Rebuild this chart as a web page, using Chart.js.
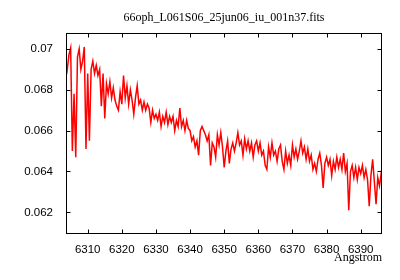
<!DOCTYPE html>
<html>
<head>
<meta charset="utf-8">
<script src="https://cdn.jsdelivr.net/npm/chart.js@4/dist/chart.umd.min.js"></script>
<style>
  html, body { margin: 0; padding: 0; background: #ffffff; }
  canvas { display: block; }
</style>
</head>
<body>
<canvas id="c" width="400" height="280"></canvas>
<script>
const titleText = "66oph_L061S06_25jun06_iu_001n37.fits";
const xAxisTitle = "Angstrom";

const wavelengths = [
  6303.5,6304,6304.5,6305,6305.5,6306,6306.5,6307,6307.5,6308,
  6308.5,6309,6309.5,6310,6310.5,6311,6311.5,6312,6312.5,6313,
  6313.5,6314,6314.5,6315,6315.5,6316,6316.5,6317,6317.5,6318,
  6318.5,6319,6319.5,6320,6320.5,6321,6321.5,6322,6322.5,6323,
  6323.5,6324,6324.5,6325,6325.5,6326,6326.5,6327,6327.5,6328,
  6328.5,6329,6329.5,6330,6330.5,6331,6331.5,6332,6332.5,6333,
  6333.5,6334,6334.5,6335,6335.5,6336,6336.5,6337,6337.5,6338,
  6338.5,6339,6339.5,6340,6340.5,6341,6341.5,6342,6342.5,6343,
  6343.5,6344,6344.5,6345,6345.5,6346,6346.5,6347,6347.5,6348,
  6348.5,6349,6349.5,6350,6350.5,6351,6351.5,6352,6352.5,6353,
  6353.5,6354,6354.5,6355,6355.5,6356,6356.5,6357,6357.5,6358,
  6358.5,6359,6359.5,6360,6360.5,6361,6361.5,6362,6362.5,6363,
  6363.5,6364,6364.5,6365,6365.5,6366,6366.5,6367,6367.5,6368,
  6368.5,6369,6369.5,6370,6370.5,6371,6371.5,6372,6372.5,6373,
  6373.5,6374,6374.5,6375,6375.5,6376,6376.5,6377,6377.5,6378,
  6378.5,6379,6379.5,6380,6380.5,6381,6381.5,6382,6382.5,6383,
  6383.5,6384,6384.5,6385,6385.5,6386,6386.5,6387,6387.5,6388,
  6388.5,6389,6389.5,6390,6390.5,6391,6391.5,6392,6392.5,6393,
  6393.5,6394,6394.5,6395,6395.5,6396,6396.5
];

const flux = [
  0.06946,0.06898,0.06971,0.07005,0.0650,0.0678,0.0647,0.0696,0.0700,0.0690,
  0.0694,0.0701,0.0651,0.0688,0.0655,0.0690,0.0694,0.0688,0.0692,0.0687,
  0.0690,0.0672,0.0688,0.0666,0.0683,0.0678,0.0684,0.0676,0.0681,0.0675,
  0.0672,0.0670,0.0679,0.0673,0.0687,0.0676,0.0682,0.0673,0.0680,0.0675,
  0.0668,0.0676,0.0682,0.0673,0.0675,0.0670,0.0674,0.0670,0.0673,0.0671,
  0.0664,0.0670,0.0666,0.0668,0.0665,0.0669,0.0662,0.0667,0.0664,0.0669,
  0.0663,0.0667,0.0664,0.0667,0.0660,0.0665,0.0662,0.0671,0.0662,0.0665,
  0.0660,0.0665,0.0661,0.0660,0.0655,0.0657,0.0652,0.0655,0.0648,0.0660,
  0.0662,0.0660,0.0658,0.0655,0.0658,0.0643,0.0654,0.0652,0.0647,0.0658,
  0.0653,0.0659,0.0652,0.0642,0.0650,0.0655,0.0644,0.0651,0.0654,0.0650,
  0.0654,0.0659,0.0653,0.0655,0.0648,0.0656,0.0651,0.0655,0.0650,0.0654,
  0.0647,0.0653,0.0655,0.0650,0.0654,0.0648,0.0650,0.0643,0.0641,0.0652,
  0.0647,0.0654,0.0648,0.0650,0.0645,0.0651,0.0653,0.0645,0.0641,0.0650,
  0.0644,0.0648,0.0643,0.0653,0.0647,0.0651,0.0646,0.0650,0.0655,0.0649,
  0.0652,0.0646,0.0651,0.0645,0.0648,0.0641,0.0644,0.0640,0.0646,0.0649,
  0.0643,0.0632,0.0644,0.0647,0.0643,0.0646,0.0638,0.0645,0.0641,0.0647,
  0.0642,0.0646,0.0641,0.0649,0.0640,0.0644,0.0621,0.0640,0.0643,0.0637,
  0.0642,0.0636,0.0642,0.0639,0.0643,0.0637,0.0641,0.0636,0.0623,0.0638,
  0.0646,0.0635,0.0624,0.0637,0.0633,0.0639,0.0636
];

const xTicks = [6310,6320,6330,6340,6350,6360,6370,6380,6390];
const xTickLabels = ["6310","6320","6330","6340","6350","6360","6370","6380","6390"];
const yTicks = [0.062,0.064,0.066,0.068,0.07];
const yTickLabels = ["0.062","0.064","0.066","0.068","0.07"];

const framePlugin = {
  id: 'frame',
  afterDraw(chart) {
    const {ctx, chartArea: a, scales: {x, y}} = chart;
    ctx.save();
    ctx.strokeStyle = '#000000';
    ctx.lineWidth = 1;
    const L = Math.round(a.left) + 0.5, R = Math.round(a.right) - 0.5;
    const T = Math.round(a.top) + 0.5, B = Math.round(a.bottom) - 0.5;
    ctx.strokeRect(L, T, R - L, B - T);
    ctx.beginPath();
    const tl = 4;
    xTicks.forEach(v => {
      const p = Math.round(x.getPixelForValue(v)) + 0.5;
      ctx.moveTo(p, B); ctx.lineTo(p, B - tl);
      ctx.moveTo(p, T); ctx.lineTo(p, T + tl);
    });
    yTicks.forEach(v => {
      const p = Math.round(y.getPixelForValue(v)) + 0.5;
      ctx.moveTo(L, p); ctx.lineTo(L + tl, p);
      ctx.moveTo(R, p); ctx.lineTo(R - tl, p);
    });
    ctx.stroke();
    ctx.restore();
  }
};

new Chart(document.getElementById('c'), {
  type: 'line',
  data: {
    datasets: [{
      data: wavelengths.map((w, i) => ({x: w, y: flux[i]})),
      borderColor: '#ff0000',
      borderWidth: 1.5,
      pointRadius: 0,
      tension: 0,
      fill: false
    }]
  },
  options: {
    responsive: false,
    animation: false,
    devicePixelRatio: 1,
    layout: {padding: {left: 0, right: 18, top: 0, bottom: 0}},
    plugins: {
      legend: {display: false},
      tooltip: {enabled: false},
      title: {
        display: true,
        text: titleText,
        fullSize: false,
        color: '#000000',
        font: {family: 'Liberation Serif', size: 12, weight: 'normal'},
        padding: {top: 11, bottom: 7.6}
      }
    },
    scales: {
      x: {
        type: 'linear',
        min: 6303.64,
        max: 6396.24,
        afterBuildTicks: s => { s.ticks = xTicks.map(v => ({value: v})); },
        afterFit: s => { s.height = 46; },
        ticks: {
          callback: (v, i) => xTickLabels[i],
          font: {family: 'Liberation Sans', size: 11.5},
          color: '#000000',
          padding: 9,
          maxRotation: 0,
          autoSkip: false
        },
        grid: {display: false, drawTicks: false},
        border: {display: false},
        title: {
          display: true,
          text: xAxisTitle,
          align: 'end',
          color: '#000000',
          font: {family: 'Liberation Serif', size: 12},
          padding: {top: 0, bottom: 14.5}
        }
      },
      y: {
        type: 'linear',
        min: 0.06094,
        max: 0.07078,
        afterBuildTicks: s => { s.ticks = yTicks.map(v => ({value: v})); },
        afterFit: s => { s.width = 66; },
        ticks: {
          callback: (v, i) => yTickLabels[i],
          font: {family: 'Liberation Sans', size: 11.5},
          color: '#000000',
          padding: 13,
          autoSkip: false
        },
        grid: {display: false, drawTicks: false},
        border: {display: false}
      }
    }
  },
  plugins: [framePlugin]
});
</script>
</body>
</html>
